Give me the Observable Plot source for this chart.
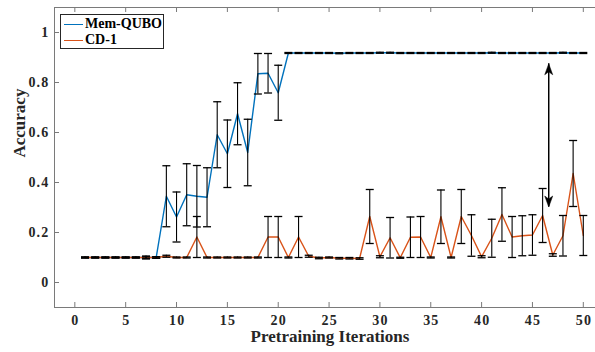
<!DOCTYPE html>
<html><head><meta charset="utf-8">
<script src="https://cdn.jsdelivr.net/npm/d3@7"></script>
<script src="https://cdn.jsdelivr.net/npm/@observablehq/plot@0.6"></script>
<style>
body{margin:0;background:#fff;}
#wrap{position:relative;width:595px;height:352px;font-family:"Liberation Serif","Times New Roman",serif;}
#chart svg text{font-family:"Liberation Serif","Times New Roman",serif !important;}
#chart svg g[aria-label$="tick label"] text{letter-spacing:1.2px;}
#legend{position:absolute;left:60px;top:14px;width:104px;height:35px;border:1px solid #262626;background:#fff;box-sizing:border-box;font-weight:bold;font-size:14px;color:#000;}
.row{position:absolute;left:3px;display:flex;align-items:center;height:16px;line-height:16px;}
.sw{width:19px;height:0;border-top:1.5px solid;margin-right:2px;}
</style></head>
<body><div id="wrap"><div id="chart"></div><div id="legend"></div></div>
<script>
// ---- data ----
const iterations = [1,2,3,4,5,6,7,8,9,10,11,12,13,14,15,16,17,18,19,20,21,22,23,24,25,26,27,28,29,30,31,32,33,34,35,36,37,38,39,40,41,42,43,44,45,46,47,48,49,50];
const memQuboMean = [0.1,0.1,0.1,0.1,0.1,0.1,0.1,0.1,0.345,0.262,0.351,0.345,0.341,0.591,0.515,0.675,0.52,0.835,0.837,0.759,
  0.918,0.918,0.918,0.918,0.918,0.917,0.918,0.918,0.918,0.919,0.919,0.918,0.918,0.918,0.918,0.918,0.918,0.918,0.918,0.918,
  0.919,0.918,0.918,0.918,0.918,0.918,0.918,0.919,0.918,0.918];
const memQuboErr = [0.002,0.002,0.002,0.002,0.002,0.002,0.003,0.003,0.122,0.1,0.124,0.123,0.118,0.132,0.135,0.124,0.133,0.081,0.079,0.11,
  0.002,0.002,0.002,0.002,0.002,0.002,0.002,0.002,0.002,0.002,0.002,0.002,0.002,0.002,0.002,0.002,0.002,0.002,0.002,0.002,
  0.002,0.002,0.002,0.002,0.002,0.002,0.002,0.002,0.002,0.002];
const cd1Mean = [0.1,0.1,0.1,0.1,0.1,0.1,0.1,0.1,0.105,0.1,0.1,0.182,0.1,0.1,0.1,0.1,0.1,0.1,0.182,0.182,
  0.1,0.182,0.105,0.098,0.1,0.097,0.097,0.096,0.264,0.103,0.179,0.099,0.181,0.182,0.1,0.263,0.1,0.264,0.188,0.103,
  0.177,0.272,0.182,0.187,0.19,0.268,0.11,0.187,0.436,0.188];
const cd1Err = [0.002,0.002,0.002,0.002,0.002,0.002,0.006,0.003,0.004,0.002,0.002,0.082,0.002,0.002,0.002,0.002,0.002,0.002,0.082,0.082,
  0.002,0.082,0.004,0.003,0.002,0.003,0.003,0.003,0.108,0.004,0.081,0.002,0.081,0.082,0.002,0.107,0.002,0.108,0.083,0.004,
  0.076,0.107,0.082,0.08,0.081,0.108,0.005,0.081,0.132,0.08];
const seriesNames = ["Mem-QUBO", "CD-1"];
const seriesColors = ["#0072BD", "#D95319"];
const xTicks = [0,5,10,15,20,25,30,35,40,45,50];
const yTicks = [0,0.2,0.4,0.6,0.8,1];
const xDomain = [-2, 51.2];
const yDomain = [-0.1, 1.1];
const gapArrowX = [46.6];
const gapArrowY = [0.302, 0.875];

// ---- build tables ----
const rows = [];
iterations.forEach((it, i) => {
  rows.push({series: seriesNames[0], x: it, y: memQuboMean[i], e: memQuboErr[i]});
  rows.push({series: seriesNames[1], x: it, y: cd1Mean[i], e: cd1Err[i]});
});
const caps = rows.flatMap(d => [{x: d.x, y: d.y - d.e}, {x: d.x, y: d.y + d.e}]);
const arrowRows = [{x: gapArrowX[0], y1: gapArrowY[0], y2: gapArrowY[1]}];

const capSymbol = {draw(ctx, size) { const w = Math.sqrt(size / Math.PI); ctx.moveTo(-w, 0); ctx.lineTo(w, 0); }};
const headUp = {draw(ctx) { ctx.moveTo(0, 0); ctx.lineTo(4, 11); ctx.lineTo(0, 8); ctx.lineTo(-4, 11); ctx.closePath(); }};
const headDown = {draw(ctx) { ctx.moveTo(0, 0); ctx.lineTo(4, -11); ctx.lineTo(0, -8); ctx.lineTo(-4, -11); ctx.closePath(); }};

const W = 595, H = 352, mL = 54, mR = 0, mT = 7, mB = 45;
const innerW = W - mL - mR, innerH = H - mT - mB;
const axisGray = "#7a7a7a";
const textCol = "#262626";
const serif = '"Liberation Serif","Times New Roman",serif';

const chart = Plot.plot({
  width: W, height: H,
  marginLeft: mL, marginRight: mR, marginTop: mT, marginBottom: mB,
  style: {fontFamily: serif, fontSize: "14px", fontWeight: "bold", color: textCol, background: "#fff"},
  x: {domain: xDomain},
  y: {domain: yDomain},
  color: {domain: seriesNames, range: seriesColors},
  marks: [
    // frame (left, top, bottom)
    Plot.ruleX([xDomain[0]], {stroke: axisGray, strokeWidth: 1}),
    Plot.ruleY(yDomain, {stroke: axisGray, strokeWidth: 1}),
    // inward ticks
    Plot.tickX(xTicks, {x: d => d, insetTop: innerH - 5, stroke: axisGray}),
    Plot.tickX(xTicks, {x: d => d, insetBottom: innerH - 5, stroke: axisGray}),
    Plot.tickY(yTicks, {y: d => d, insetRight: innerW - 5, stroke: axisGray}),
    Plot.axisX(xTicks, {tickSize: 0, tickPadding: 7.5, label: null, fill: textCol, fontFamily: serif, fontSize: 14, fontWeight: "bold", dx: 0.6}),
    Plot.axisY(yTicks, {tickSize: 0, tickPadding: 5, label: null, tickFormat: d => String(d), fill: textCol, fontFamily: serif, fontSize: 14, fontWeight: "bold"}),
    // series lines
    Plot.line(rows, {x: "x", y: "y", z: "series", stroke: "series", strokeWidth: 1.4}),
    // error bars
    Plot.ruleX(rows, {x: "x", y1: d => d.y - d.e, y2: d => d.y + d.e, stroke: "#000", strokeWidth: 1.1}),
    Plot.dot(caps, {x: "x", y: "y", r: 4, symbol: capSymbol, stroke: "#000", strokeWidth: 1.3, fill: "none"}),
    // gap arrow
    Plot.ruleX(arrowRows, {x: "x", y1: "y1", y2: "y2", stroke: "#000", strokeWidth: 1.5}),
    Plot.dot(arrowRows, {x: "x", y: "y2", r: 4, symbol: headUp, fill: "#000", stroke: "#000", strokeWidth: 0.5}),
    Plot.dot(arrowRows, {x: "x", y: "y1", r: 4, symbol: headDown, fill: "#000", stroke: "#000", strokeWidth: 0.5}),
    // axis titles
    Plot.text(["Pretraining Iterations"], {frameAnchor: "bottom", dy: 34.5, dx: 5, fontSize: 17, fontWeight: "bold", fill: textCol, fontFamily: serif}),
    Plot.text(["Accuracy"], {frameAnchor: "left", dx: -35, rotate: -90, fontSize: 17, fontWeight: "bold", fill: textCol, fontFamily: serif})
  ]
});
document.getElementById("chart").appendChild(chart);

// legend
const legend = document.getElementById("legend");
seriesNames.forEach((name, i) => {
  const row = document.createElement("div");
  row.className = "row";
  row.style.top = (1 + i * 16) + "px";
  const sw = document.createElement("span");
  sw.className = "sw";
  sw.style.borderColor = seriesColors[i];
  const t = document.createElement("span");
  t.textContent = name;
  row.appendChild(sw); row.appendChild(t);
  legend.appendChild(row);
});
</script>
</body></html>
